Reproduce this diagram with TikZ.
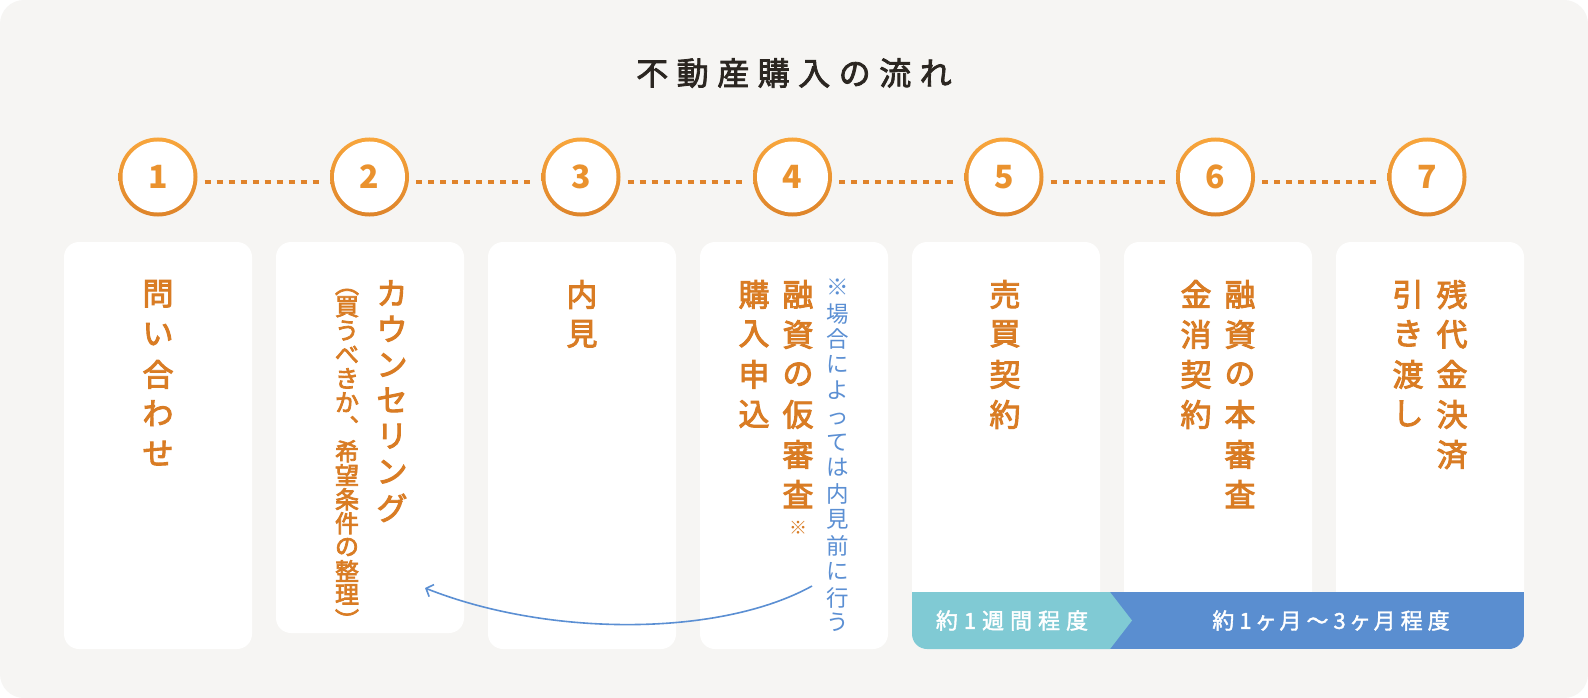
\documentclass[tikz,border=0pt]{standalone}
\usepackage{fontspec}
\newfontfamily\jp{Noto Sans CJK JP}
\newfontfamily\jpm{Noto Sans CJK JP}[FakeBold=3]
\newfontfamily\jpt{Noto Sans CJK JP}[FakeBold=2.5]
\newfontfamily\jpp{Noto Sans CJK JP}[RawFeature=+palt,FakeBold=1.8]
\usetikzlibrary{arrows.meta}
\definecolor{pagebg}{HTML}{F6F5F3}
\definecolor{titlec}{HTML}{2B2621}
\definecolor{ctop}{HTML}{F8A63C}
\definecolor{cbot}{HTML}{DE842A}
\definecolor{numc}{HTML}{EA922E}
\definecolor{dotc}{HTML}{E0832A}
\definecolor{oran}{HTML}{D97C24}
\definecolor{noteb}{HTML}{5B8FD3}
\definecolor{tealbar}{HTML}{80CAD4}
\definecolor{bluebar}{HTML}{5A8ED0}
\newdimen\trkgap
\def\trkaux#1{\ifx\relax#1\else#1\kern\trkgap\expandafter\trkaux\fi}
\newcommand\trk[2]{\trkgap=#1\relax\hbox{\trkaux#2\relax\kern-\trkgap}}
\newdimen\vpitch
\def\vtaux#1{\ifx\relax#1\else\vbox to\vpitch{\hbox to 1em{\hss\vphantom{国}#1\hss}\vss}\expandafter\vtaux\fi}
\newcommand\vt[2]{\vpitch=#1\relax\vbox{\offinterlineskip\vtaux#2\relax}}
\newcommand\vlp{\rotatebox[origin=c]{-90}{（}}
\newcommand\vrp{\rotatebox[origin=c]{-90}{）}}
\begin{document}
\begin{tikzpicture}[x=1pt,y=-1pt,
  card/.style={fill=white, rounded corners=15pt, minimum width=188pt, inner sep=0},
  stepc/.style={circle, minimum size=79pt, inner sep=0, top color=ctop, bottom color=cbot,
    path picture={\fill[white] (path picture bounding box.center) circle (35.5pt);},
    text=numc, font=\jp\bfseries\fontsize{32}{32}\selectfont},
  dotl/.style={dotc, line width=4.5pt, dash pattern=on 6pt off 6pt},
  otext/.style={anchor=north, inner sep=0, text=oran, font=\jpm\fontsize{31}{31}\selectfont},
  subtext/.style={anchor=north, inner sep=0, text=oran, font=\jpm\fontsize{24}{24}\selectfont},
  notetext/.style={anchor=north, inner sep=0, text=noteb, font=\jp\fontsize{22.5}{22.5}\selectfont},
  barl/.style={inner sep=0, text=white, font=\jpp\fontsize{22}{22}\selectfont},
]
\useasboundingbox (0,0) rectangle (1588,698);
\fill[white] (0,0) rectangle (1588,698);
\fill[pagebg, rounded corners=24pt] (0,0) rectangle (1588,698);

% title
\node[inner sep=0, text=titlec, font=\jpt\fontsize{32}{32}\selectfont] (title) at (794,73) {\trk{8.5pt}{不動産購入の流れ}};

% step circles
\foreach \i/\x in {1/158,2/369.5,3/581,4/792.5,5/1004,6/1215.5,7/1427}
  \node[stepc] (s\i) at (\x,177) {\i};
\foreach \a/\b in {1/2,2/3,3/4,4/5,5/6,6/7}
  \draw[dotl] ([shift={(7,5)}]s\a.east) -- ([shift={(-7,5)}]s\b.west);

% cards
\node[card, minimum height=407pt] (k1) at (158,445.5) {};
\node[card, minimum height=391pt] (k2) at (370,437.5) {};
\node[card, minimum height=407pt] (k3) at (582,445.5) {};
\node[card, minimum height=407pt] (k4) at (794,445.5) {};
\node[card, minimum height=407pt] (k5) at (1006,445.5) {};
\node[card, minimum height=407pt] (k6) at (1218,445.5) {};
\node[card, minimum height=407pt] (k7) at (1430,445.5) {};

% duration bars
\begin{scope}
  \clip[rounded corners=15pt] (912,560) rectangle (1524,649);
  \fill[bluebar] (1100,592) rectangle (1524,649);
  \fill[tealbar] (912,592) -- (1110,592) -- (1132,620.5) -- (1110,649) -- (912,649) -- cycle;
\end{scope}
\node[barl] (b1) at (1012,620.5) {\trk{6pt}{約1週間程度}};
\node[barl] (b2) at (1331,620.5) {\trk{5pt}{約1ヶ月～3ヶ月程度}};

% card texts
\node[otext] (c1) at (158,280) {\vt{40pt}{問い合わせ}};
\node[otext] (c2) at (392,280) {\vt{35.6pt}{カウンセリング}};
\node[subtext] (c2b) at (347,272) {\vt{24pt}{\vlp 買うべきか︑希望条件の整理\vrp}};
\node[otext] (c3) at (582,280) {\vt{40pt}{内見}};
\node[otext] (c4a) at (798,280) {\vt{40pt}{融資の仮審査}};
\node[otext] (c4b) at (754,280) {\vt{40pt}{購入申込}};
\node[inner sep=0, text=oran, font=\jp\fontsize{18}{18}\selectfont] (c4m) at (798,528) {※};
\node[notetext] (c4n) at (838,277.3) {\vt{25.8pt}{※場合によっては内見前に行う}};
\node[otext] (c5) at (1005,280) {\vt{40pt}{売買契約}};
\node[otext] (c6a) at (1240,280) {\vt{40pt}{融資の本審査}};
\node[otext] (c6b) at (1196,280) {\vt{40pt}{金消契約}};
\node[otext] (c7a) at (1452,280) {\vt{40pt}{残代金決済}};
\node[otext] (c7b) at (1408,280) {\vt{40pt}{引き渡し}};

% back arrow
\coordinate (as) at (812,586);
\coordinate (ae) at (425,588);
\draw[noteb, line width=1.6pt, -{Straight Barb[length=6pt,width=13pt]}] (as) .. controls (720,637) and (548,637) .. (ae);
\end{tikzpicture}
\end{document}
